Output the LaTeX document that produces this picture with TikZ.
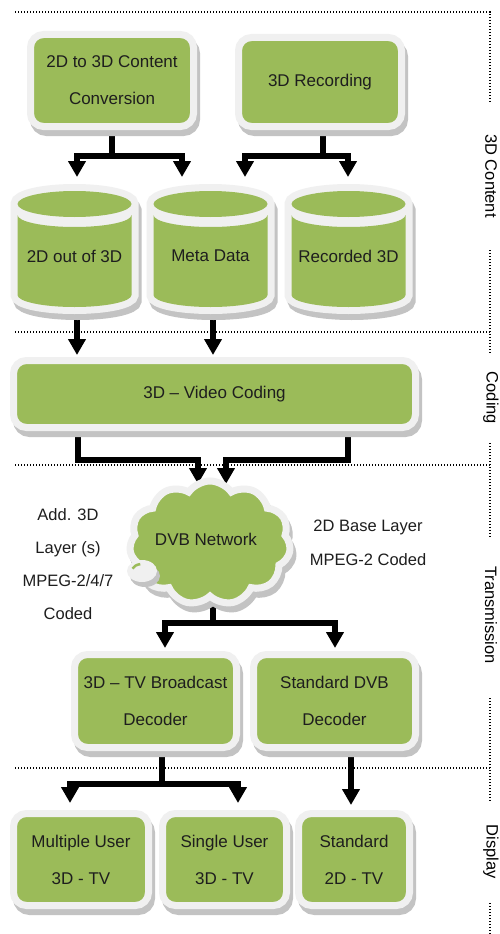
\documentclass[tikz,border=0pt]{standalone}
\usepackage{fontspec}
\setmainfont{Liberation Sans}
\usetikzlibrary{arrows.meta,shadows,shapes.symbols,backgrounds,calc}
\definecolor{boxgreen}{HTML}{9BBB59}
\definecolor{boxrim}{HTML}{F0F0F0}
\definecolor{boxshade}{HTML}{C3C3C3}
\definecolor{txt}{HTML}{1E1E1E}
\tikzset{
  gbox/.style={rectangle, rounded corners=13pt, fill=boxgreen, draw=boxrim, line width=7pt,
    inner sep=0pt, align=center, text=txt, font=\fontsize{17}{37}\selectfont,
    drop shadow={shadow xshift=3pt, shadow yshift=-6pt, fill=boxshade, draw=boxshade, line width=7pt, opacity=1}},
  arr/.style={line width=6pt, -{Triangle[width=17pt,length=16pt]}},
  sec/.style={dash pattern=on 1.3pt off 1.7pt, line width=1.3pt},
  seclab/.style={rotate=-90, font=\fontsize{16.5}{20}\selectfont, inner sep=0pt, text=black},
  plain/.style={align=center, text=txt, inner sep=0pt},
  cylpic/.pic={
    \path[fill=boxshade, draw=boxshade, line width=14pt, shift={(3,-6)}]
      (-57,-204) arc[start angle=180, end angle=0, x radius=57, y radius=13]
      -- (57,-295) arc[start angle=0, end angle=-180, x radius=57, y radius=12] -- cycle;
    \path[fill=boxrim, draw=boxrim, line width=14pt]
      (-57,-204) arc[start angle=180, end angle=0, x radius=57, y radius=13]
      -- (57,-295) arc[start angle=0, end angle=-180, x radius=57, y radius=12] -- cycle;
    \fill[boxgreen] (0,-204) ellipse[x radius=57, y radius=13];
    \fill[boxgreen] (-57,-215) -- (-57,-295) arc[start angle=180, end angle=360, x radius=57, y radius=12]
      -- (57,-215) arc[start angle=0, end angle=-180, x radius=57, y radius=12] -- cycle;
  }
}
\begin{document}
\begin{tikzpicture}[x=1pt, y=1pt]
\useasboundingbox (0,0) rectangle (500,-934);

% boxes
\node[gbox, minimum width=163pt, minimum height=92pt] (B1) at (112,-80.5) {2D to 3D Content\\Conversion};
\node[gbox, minimum width=163pt, minimum height=89pt] (B2) at (320,-82) {3D Recording};

% cylinders
\pic at (74.5,0) {cylpic};
\pic at (210.5,0) {cylpic};
\pic at (348.5,0) {cylpic};
\node[plain, font=\fontsize{17}{20}\selectfont] (c1) at (74.5,-256) {2D out of 3D};
\node[plain, font=\fontsize{17}{20}\selectfont] (c2) at (210.5,-256) {Meta Data};
\node[plain, font=\fontsize{17}{20}\selectfont] (c3) at (348.5,-256) {Recorded 3D};

\node[gbox, minimum width=402pt, minimum height=67pt] (VC) at (214.5,-394) {3D -- Video Coding};

% cloud
\node[cloud, cloud puffs=11, cloud puff arc=110, aspect=1.35, minimum width=161pt, minimum height=124pt,
  fill=boxgreen, draw=boxrim, line width=7pt, inner sep=0pt,
  drop shadow={shadow xshift=3pt, shadow yshift=-6pt, fill=boxshade, draw=boxshade, line width=7pt, opacity=1}]
  (cloud) at (210,-543) {};
\fill[boxshade] (145,-576) ellipse[x radius=15, y radius=11];
\fill[boxrim] (142,-571) ellipse[x radius=15, y radius=11];
\draw[boxgreen, line width=2.5pt] (142,-571) ++(160:10 and 7) arc[start angle=160, end angle=100, x radius=10, y radius=7];
\node[plain, font=\fontsize{17}{20}\selectfont] (dvb) at (206,-539) {DVB Network};

\node[plain, font=\fontsize{16.5}{33}\selectfont] (lt) at (68,-564.5) {Add. 3D\\Layer (s)\\MPEG-2/4/7\\Coded};
\node[plain, font=\fontsize{16.5}{34}\selectfont] (rt) at (368,-543) {2D Base Layer\\MPEG-2 Coded};

\node[gbox, minimum width=162pt, minimum height=93pt] (DA) at (155.5,-701) {3D -- TV Broadcast\\Decoder};
\node[gbox, minimum width=162pt, minimum height=93pt] (DB) at (334.5,-701) {Standard DVB\\Decoder};

\node[gbox, minimum width=135pt, minimum height=92pt] (D1) at (81,-859.5) {Multiple User\\3D - TV};
\node[gbox, minimum width=124pt, minimum height=92pt] (D2) at (224.5,-859.5) {Single User\\3D - TV};
\node[gbox, minimum width=111pt, minimum height=92pt] (D3) at (354,-859.5) {Standard\\2D - TV};

% arrow targets
\coordinate (t1a) at (77,-177);
\coordinate (t1b) at (182,-177);
\coordinate (t2a) at (245,-177);
\coordinate (t2b) at (348,-177);
\coordinate (tvl) at (198,-484);
\coordinate (tvr) at (226,-484);
\coordinate (tda) at (165,-648);
\coordinate (tdb) at (335,-648);
\coordinate (td1) at (70,-803);
\coordinate (td2) at (238,-803);
\coordinate (td3) at (351,-805);

\begin{pgfonlayer}{background}
\fill[white] (0,0) rectangle (500,-934);
\draw[arr] (B1.south) -- ++(0,-25.5) -| (t1a);
\draw[arr] (B1.south) -- ++(0,-25.5) -| (t1b);
\draw[arr] ([xshift=3pt]B2.south) -- ++(0,-25.5) -| (t2a);
\draw[arr] ([xshift=3pt]B2.south) -- ++(0,-25.5) -| (t2b);
\draw[arr] ([xshift=2.5pt]c1.center) -- ([xshift=2.5pt]c1.center |- 0,-355);
\draw[arr] ([xshift=2.5pt]c2.center) -- ([xshift=2.5pt]c2.center |- 0,-355);
\draw[arr] ([xshift=-136.5pt]VC.south) -- ++(0,-28.5) -| (tvl);
\draw[arr] ([xshift=133.5pt]VC.south) -- ++(0,-28.5) -| (tvr);
\draw[arr] ([xshift=3pt]cloud.center) -- ++(0,-80) -| (tda);
\draw[arr] ([xshift=3pt]cloud.center) -- ++(0,-80) -| (tdb);
\draw[arr] ([xshift=6.5pt]DA.south) -- ++(0,-32.5) -| (td1);
\draw[arr] ([xshift=6.5pt]DA.south) -- ++(0,-32.5) -| (td2);
\draw[arr] ([xshift=16.5pt]DB.south) -- (td3);
\end{pgfonlayer}

% section labels and dotted dividers
\node[seclab] (s1) at (491,-176) {3D Content};
\node[seclab] (s2) at (491,-398) {Coding};
\node[seclab] (s3) at (491,-615) {Transmission};
\node[seclab] (s4) at (491,-852) {Display};
\draw[sec] (15,-12) -- (490,-12) -- (490,-103);
\draw[sec] (490,-250) -- (490,-353);
\draw[sec] (15,-332) -- (490,-332);
\draw[sec] (490,-443) -- (490,-538);
\draw[sec] (15,-465) -- (490,-465);
\draw[sec] (490,-698) -- (490,-802);
\draw[sec] (15,-768) -- (490,-768);
\draw[sec] (490,-903) -- (490,-934);
\end{tikzpicture}
\end{document}
